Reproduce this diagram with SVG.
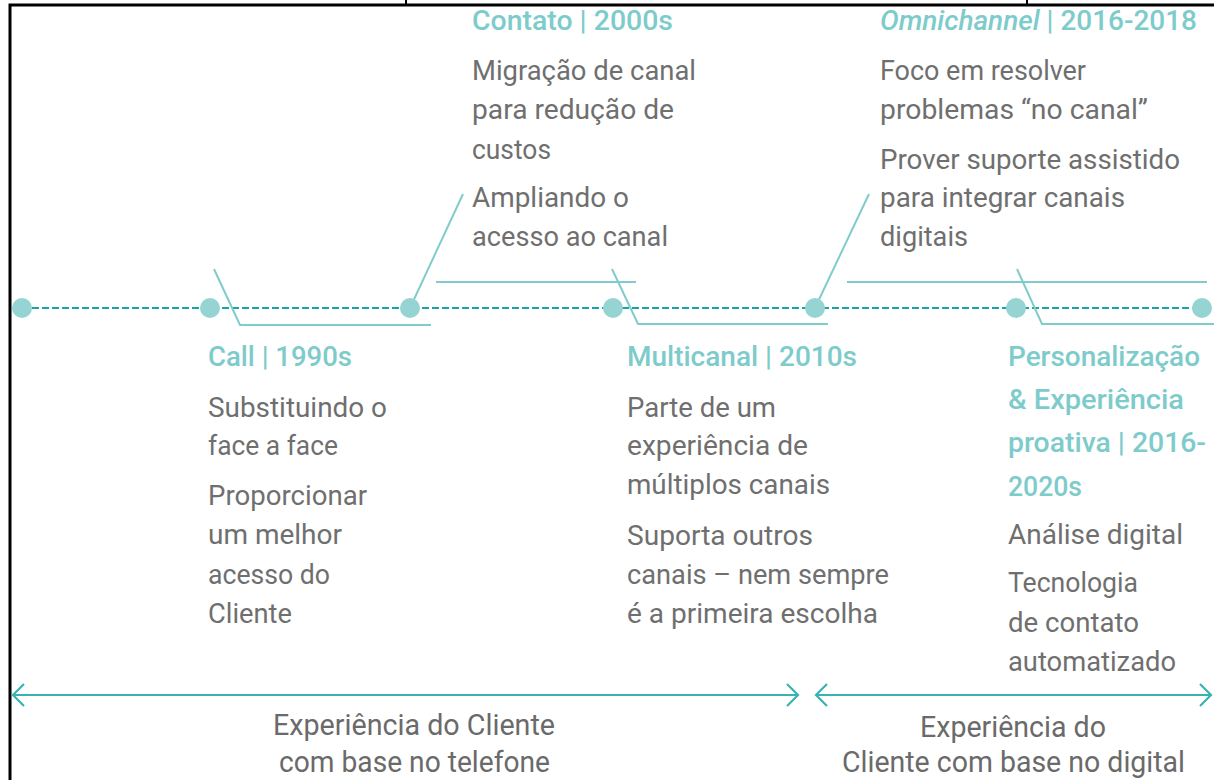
<svg xmlns="http://www.w3.org/2000/svg" width="1214" height="780" viewBox="0 0 1214 780">
<style>
  .bg{fill:#ffffff}
  .frame{stroke:#000;stroke-width:3;fill:none}
  .timeline{stroke:#17a6a6;stroke-width:1.8;stroke-dasharray:7 3;fill:none}
  .dot{fill:#96d4d4}
  .callout{stroke:#80cccc;stroke-width:2;fill:none}
  .span{stroke:#3ab2b2;stroke-width:2.2;fill:none}
  .head{font-family:Roboto,"Open Sans","Liberation Sans",sans-serif;font-size:28px;font-weight:500;fill:#7ecbcb}
  .body{font-family:Roboto,"Open Sans","Liberation Sans",sans-serif;font-size:27px;font-weight:400;fill:#6f6f6f}
  .foot{font-family:Roboto,"Liberation Sans",sans-serif;font-size:30px;font-weight:400;fill:#6a6a6a}
</style>
<rect class="bg" x="0" y="0" width="1214" height="780"/>
<g id="frame">
  <path class="frame" d="M10,780 V5 H1214"/>
  <path class="frame" d="M406,0 V5 M1027,0 V5" style="stroke-width:2"/>
</g>
<g id="connectors">
  <line class="timeline" x1="22" y1="308" x2="1202" y2="308"/>
  <path class="callout" d="M214,269 L240,325 H431"/>
  <path class="callout" d="M410,308 L463,194"/>
  <path class="callout" d="M436,282 H636"/>
  <path class="callout" d="M612,269 L638,324 H828"/>
  <path class="callout" d="M815,308 L869,194"/>
  <path class="callout" d="M847,282 H1207"/>
  <path class="callout" d="M1017,269 L1042,324 H1214"/>
  <path class="span" d="M13,695 H798 M24,684 L13,695 L24,706 M787,684 L798,695 L787,706"/>
  <path class="span" d="M816,695 H1211 M827,684 L816,695 L827,706 M1200,684 L1211,695 L1200,706"/>
</g>
<g id="dots">
  <circle class="dot" cx="22" cy="308" r="10"/>
  <circle class="dot" cx="210" cy="308" r="10"/>
  <circle class="dot" cx="410" cy="308" r="10"/>
  <circle class="dot" cx="613" cy="308" r="10"/>
  <circle class="dot" cx="815" cy="308" r="10"/>
  <circle class="dot" cx="1016" cy="308" r="10"/>
  <circle class="dot" cx="1202" cy="308" r="10"/>
</g>
<g id="node-contato">
  <text class="head" x="472" y="30" textLength="201" lengthAdjust="spacingAndGlyphs">Contato | 2000s</text>
  <text class="body" x="472" y="80" textLength="224" lengthAdjust="spacingAndGlyphs">Migração de canal</text>
  <text class="body" x="472" y="119" textLength="202" lengthAdjust="spacingAndGlyphs">para redução de</text>
  <text class="body" x="472" y="159" textLength="79" lengthAdjust="spacingAndGlyphs">custos</text>
  <text class="body" x="472" y="207" textLength="157" lengthAdjust="spacingAndGlyphs">Ampliando o</text>
  <text class="body" x="472" y="246" textLength="196" lengthAdjust="spacingAndGlyphs">acesso ao canal</text>
</g>
<g id="node-omnichannel">
  <text class="head" x="880" y="30" textLength="317" lengthAdjust="spacingAndGlyphs"><tspan font-style="italic">Omnichannel</tspan> | 2016-2018</text>
  <text class="body" x="880" y="80" textLength="206" lengthAdjust="spacingAndGlyphs">Foco em resolver</text>
  <text class="body" x="880" y="119" textLength="268" lengthAdjust="spacingAndGlyphs">problemas “no canal”</text>
  <text class="body" x="880" y="169" textLength="300" lengthAdjust="spacingAndGlyphs">Prover suporte assistido</text>
  <text class="body" x="880" y="207" textLength="245" lengthAdjust="spacingAndGlyphs">para integrar canais</text>
  <text class="body" x="880" y="246" textLength="88" lengthAdjust="spacingAndGlyphs">digitais</text>
</g>
<g id="node-call">
  <text class="head" x="208" y="366" textLength="144" lengthAdjust="spacingAndGlyphs">Call | 1990s</text>
  <text class="body" x="208" y="417" textLength="179" lengthAdjust="spacingAndGlyphs">Substituindo o</text>
  <text class="body" x="208" y="455" textLength="130" lengthAdjust="spacingAndGlyphs">face a face</text>
  <text class="body" x="208" y="505" textLength="159" lengthAdjust="spacingAndGlyphs">Proporcionar</text>
  <text class="body" x="208" y="544" textLength="134" lengthAdjust="spacingAndGlyphs">um melhor</text>
  <text class="body" x="208" y="584" textLength="122" lengthAdjust="spacingAndGlyphs">acesso do</text>
  <text class="body" x="208" y="623" textLength="84" lengthAdjust="spacingAndGlyphs">Cliente</text>
</g>
<g id="node-multicanal">
  <text class="head" x="627" y="366" textLength="230" lengthAdjust="spacingAndGlyphs">Multicanal | 2010s</text>
  <text class="body" x="627" y="417" textLength="149" lengthAdjust="spacingAndGlyphs">Parte de um</text>
  <text class="body" x="627" y="455" textLength="181" lengthAdjust="spacingAndGlyphs">experiência de</text>
  <text class="body" x="627" y="494" textLength="203" lengthAdjust="spacingAndGlyphs">múltiplos canais</text>
  <text class="body" x="627" y="545" textLength="186" lengthAdjust="spacingAndGlyphs">Suporta outros</text>
  <text class="body" x="627" y="584" textLength="262" lengthAdjust="spacingAndGlyphs">canais – nem sempre</text>
  <text class="body" x="627" y="623" textLength="251" lengthAdjust="spacingAndGlyphs">é a primeira escolha</text>
</g>
<g id="node-personalizacao">
  <text class="head" x="1008" y="366" textLength="192" lengthAdjust="spacingAndGlyphs">Personalização</text>
  <text class="head" x="1008" y="409" textLength="176" lengthAdjust="spacingAndGlyphs">&amp; Experiência</text>
  <text class="head" x="1008" y="452" textLength="198" lengthAdjust="spacingAndGlyphs">proativa | 2016-</text>
  <text class="head" x="1008" y="496" textLength="74" lengthAdjust="spacingAndGlyphs">2020s</text>
  <text class="body" x="1008" y="544" textLength="175" lengthAdjust="spacingAndGlyphs">Análise digital</text>
  <text class="body" x="1008" y="592" textLength="130" lengthAdjust="spacingAndGlyphs">Tecnologia</text>
  <text class="body" x="1008" y="632" textLength="131" lengthAdjust="spacingAndGlyphs">de contato</text>
  <text class="body" x="1008" y="671" textLength="168" lengthAdjust="spacingAndGlyphs">automatizado</text>
</g>
<g id="label-telefone">
  <text class="foot" x="273" y="735" textLength="282" lengthAdjust="spacingAndGlyphs">Experiência do Cliente</text>
  <text class="foot" x="279" y="772" textLength="271" lengthAdjust="spacingAndGlyphs">com base no telefone</text>
</g>
<g id="label-digital">
  <text class="foot" x="920" y="737" textLength="186" lengthAdjust="spacingAndGlyphs">Experiência do</text>
  <text class="foot" x="842" y="772" textLength="343" lengthAdjust="spacingAndGlyphs">Cliente com base no digital</text>
</g>
</svg>
